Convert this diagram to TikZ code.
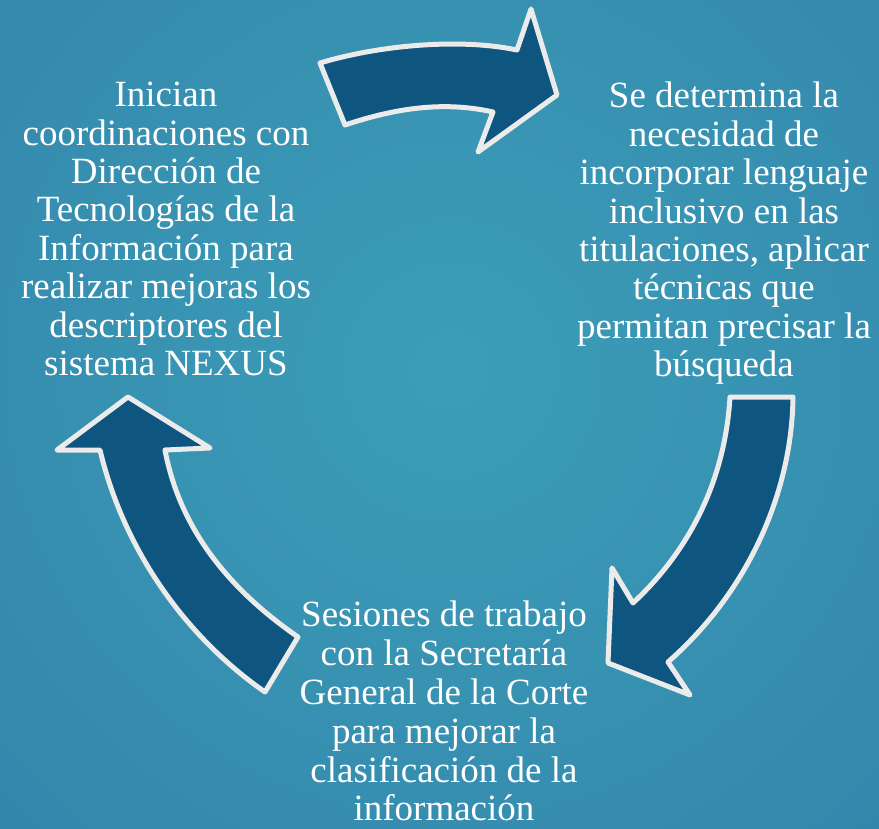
\documentclass[tikz,border=0pt]{standalone}
\usepackage{fontspec}
\setmainfont{Liberation Serif}
\definecolor{bginner}{HTML}{3C9EB8}
\definecolor{bgouter}{HTML}{2B70A0}
\definecolor{arrowfill}{HTML}{0E5580}
\definecolor{arrowline}{HTML}{EBEBEB}
\begin{document}
\begin{tikzpicture}[x=1pt,y=-1pt,
  bigarrow/.style={fill=arrowfill,draw=arrowline,line width=5pt,line join=round},
  steptext/.style={text=white,align=center,inner sep=0pt,anchor=north,
    font=\fontsize{37}{38.4}\selectfont}]
\useasboundingbox (0,0) rectangle (879,829);
\begin{scope}
\clip (0,0) rectangle (879,829);
\shade[inner color=bginner,outer color=bgouter] (450,370) circle[radius=1250];
\end{scope}
% top arrow
\draw[bigarrow] (320,63) .. controls (380,45) and (460,38) .. (517,50) -- (531,9) -- (557,95) -- (478,152) -- (493,112) .. controls (440,100) and (390,110) .. (345,125) -- cycle;
% right arrow
\draw[bigarrow] (730,397) -- (793,397) .. controls (792,490) and (750,590) .. (668,662) -- (690,695) -- (608,663) -- (612,568) -- (633,603) .. controls (690,550) and (725,480) .. (730,397) -- cycle;
% left arrow
\draw[bigarrow] (128,397) -- (210,448) -- (165,450) .. controls (180,530) and (230,590) .. (298,637) -- (265,692) .. controls (190,640) and (125,555) .. (100,450) -- (57,450) -- cycle;
\node[steptext] (left) at (166,82) {Inician\\coordinaciones con\\Dirección de\\Tecnologías de la\\Información para\\realizar mejoras los\\descriptores del\\sistema NEXUS};
\node[steptext] (right) at (724,82) {Se determina la\\necesidad de\\incorporar lenguaje\\inclusivo en las\\titulaciones, aplicar\\técnicas que\\permitan precisar la\\búsqueda};
\node[steptext,font=\fontsize{37}{38.8}\selectfont] (bottom) at (444,601) {Sesiones de trabajo\\con la Secretaría\\General de la Corte\\para mejorar la\\clasificación de la\\información};
\end{tikzpicture}
\end{document}
